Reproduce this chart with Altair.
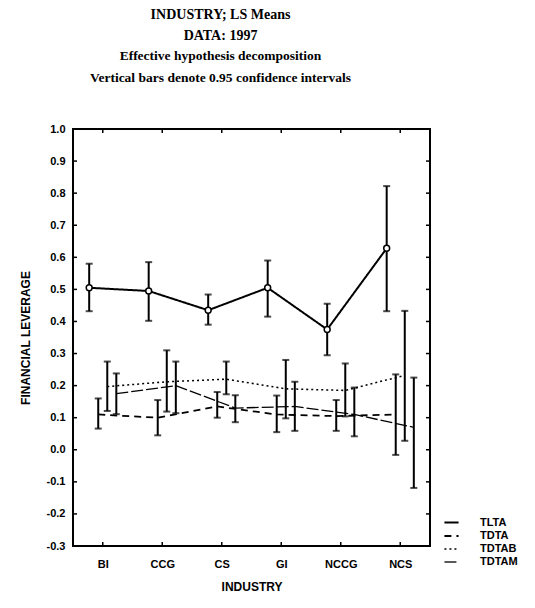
import altair as alt
import pandas as pd

categories = ["BI", "CCG", "CS", "GI", "NCCG", "NCS"]
series = ["TLTA", "TDTA", "TDTAB", "TDTAM"]

tlta_mean = [0.505, 0.495, 0.435, 0.505, 0.375, 0.628]
tlta_lo = [0.432, 0.402, 0.390, 0.415, 0.295, 0.432]
tlta_hi = [0.580, 0.585, 0.484, 0.590, 0.455, 0.822]

tdta_mean = [0.110, 0.100, 0.135, 0.110, 0.105, 0.110]
tdta_lo = [0.066, 0.045, 0.100, 0.055, 0.059, -0.016]
tdta_hi = [0.160, 0.155, 0.180, 0.169, 0.155, 0.235]

tdtab_mean = [0.197, 0.212, 0.220, 0.190, 0.185, 0.232]
tdtab_lo = [0.121, 0.119, 0.173, 0.098, 0.104, 0.028]
tdtab_hi = [0.275, 0.310, 0.275, 0.280, 0.269, 0.433]

tdtam_mean = [0.175, 0.200, 0.130, 0.135, 0.110, 0.070]
tdtam_lo = [0.111, 0.114, 0.086, 0.059, 0.042, -0.119]
tdtam_hi = [0.238, 0.275, 0.170, 0.212, 0.194, 0.225]

y_ticks = [-0.3, -0.2, -0.1, 0.0, 0.1, 0.2, 0.3, 0.4, 0.5, 0.6, 0.7, 0.8, 0.9, 1.0]

title_lines = ["INDUSTRY; LS Means", "DATA: 1997"]
subtitle_lines = ["Effective hypothesis decomposition",
                  "Vertical bars denote 0.95 confidence intervals"]

means = [tlta_mean, tdta_mean, tdtab_mean, tdtam_mean]
los = [tlta_lo, tdta_lo, tdtab_lo, tdtam_lo]
his = [tlta_hi, tdta_hi, tdtab_hi, tdtam_hi]

rows = []
for k, s in enumerate(series):
    for i, c in enumerate(categories):
        rows.append({"cat": c, "i": i, "series": s, "k": k,
                     "mean": means[k][i], "lo": los[k][i], "hi": his[k][i]})
df = pd.DataFrame(rows)

W, H = 357, 417
FONT = "Liberation Sans"

xscale = alt.Scale(domain=[-0.5, 5.5], nice=False, zero=False)
yscale = alt.Scale(domain=[-0.3, 1.0], nice=False, zero=False)
label_expr = "[" + ",".join("'%s'" % c for c in categories) + "][round(datum.value)]"

xaxis = alt.Axis(
    values=list(range(len(categories))), labelExpr=label_expr, title="INDUSTRY",
    ticks=False, grid=False, domain=False, labelFont=FONT, labelFontWeight="bold",
    labelFontSize=11, labelColor="black", labelPadding=12, labelOverlap=False,
    titleFont=FONT, titleFontWeight="bold", titleFontSize=12, titleColor="black",
    titlePadding=12)
yaxis = alt.Axis(
    values=y_ticks, labelExpr="replace(format(datum.value, '.1f'), '\u2212', '-')",
    title="FINANCIAL LEVERAGE", ticks=False, labelOverlap=False, labelBound=False,
    labelFlush=False, grid=False, domain=False, labelFont=FONT,
    labelFontWeight="bold", labelFontSize=11, labelColor="black", labelPadding=8,
    titleFont=FONT, titleFontWeight="bold", titleFontSize=12, titleColor="black",
    titlePadding=14)

base = alt.Chart(df).transform_calculate(
    xpos="datum.i + (datum.k - 1.5) * 0.152"
)

X = alt.X("xpos:Q", scale=xscale, axis=xaxis, title="INDUSTRY")

lines = base.mark_line(color="black").encode(
    x=X, y=alt.Y("mean:Q", scale=yscale, axis=yaxis, title="FINANCIAL LEVERAGE"),
    strokeDash=alt.StrokeDash("series:N", scale=alt.Scale(
        domain=series, range=[[1, 0], [7, 5], [2, 3], [12, 3]]),
        legend=alt.Legend(title=None, orient="none", legendX=370, legendY=385,
                          symbolType="stroke", symbolStrokeColor="black",
                          symbolStrokeWidth=1.5, symbolSize=200, labelOffset=20,
                          labelFont=FONT, labelFontWeight="bold", labelFontSize=11,
                          labelColor="black", rowPadding=0)),
    strokeWidth=alt.StrokeWidth("series:N", scale=alt.Scale(
        domain=series, range=[2, 1.3, 1.3, 1.3]), legend=None),
    order="i:Q",
)

bars = base.mark_rule(color="black", strokeWidth=2).encode(
    x=X, y=alt.Y("lo:Q", scale=yscale, axis=yaxis, title="FINANCIAL LEVERAGE"),
    y2="hi:Q")
cap_lo = base.mark_tick(color="black", orient="horizontal", size=7, thickness=2).encode(
    x=X, y=alt.Y("lo:Q", scale=yscale, axis=yaxis, title="FINANCIAL LEVERAGE"))
cap_hi = base.mark_tick(color="black", orient="horizontal", size=7, thickness=2).encode(
    x=X, y=alt.Y("hi:Q", scale=yscale, axis=yaxis, title="FINANCIAL LEVERAGE"))

points = base.transform_filter("datum.series == 'TLTA'").mark_point(
    shape="circle", filled=True, fill="white", stroke="black", strokeWidth=1.5,
    size=35, opacity=1).encode(
    x=X, y=alt.Y("mean:Q", scale=yscale, axis=yaxis, title="FINANCIAL LEVERAGE"))

yt = pd.DataFrame({"v": y_ticks})
xt = pd.DataFrame({"i": list(range(len(categories)))})
YT = alt.Y("v:Q", scale=yscale, axis=yaxis, title="FINANCIAL LEVERAGE")
XT = alt.X("i:Q", scale=xscale, axis=xaxis, title="INDUSTRY")
ytick_l = alt.Chart(yt).mark_rule(color="black", strokeWidth=1.5).encode(
    y=YT, x=alt.value(0), x2=alt.value(4))
ytick_r = alt.Chart(yt).mark_rule(color="black", strokeWidth=1.5).encode(
    y=YT, x=alt.value(W - 4), x2=alt.value(W))
xtick_b = alt.Chart(xt).mark_rule(color="black", strokeWidth=1.5).encode(
    x=XT, y=alt.value(H - 4), y2=alt.value(H))
xtick_t = alt.Chart(xt).mark_rule(color="black", strokeWidth=1.5).encode(
    x=XT, y=alt.value(0), y2=alt.value(4))

chart = alt.layer(lines, bars, cap_lo, cap_hi, points,
                  ytick_l, ytick_r, xtick_b, xtick_t).properties(
    width=W, height=H,
    autosize=alt.AutoSizeParams(type="none"),
    padding={"left": 65, "top": 121, "right": 95, "bottom": 55},
    title=alt.TitleParams(text=title_lines, subtitle=subtitle_lines,
                          font="Liberation Serif", fontSize=14, fontWeight="bold",
                          color="black", lineHeight=21.5,
                          subtitleFont="Liberation Serif", subtitleFontSize=13.5,
                          subtitleFontWeight="bold", subtitleColor="black",
                          subtitleLineHeight=21.5, subtitlePadding=6,
                          anchor="middle", dx=-31, offset=39),
).configure_view(stroke="black", strokeWidth=2).configure_axis(labelOverlap=False)

chart.save("out.html", embed_options={"renderer": "svg", "actions": False})
